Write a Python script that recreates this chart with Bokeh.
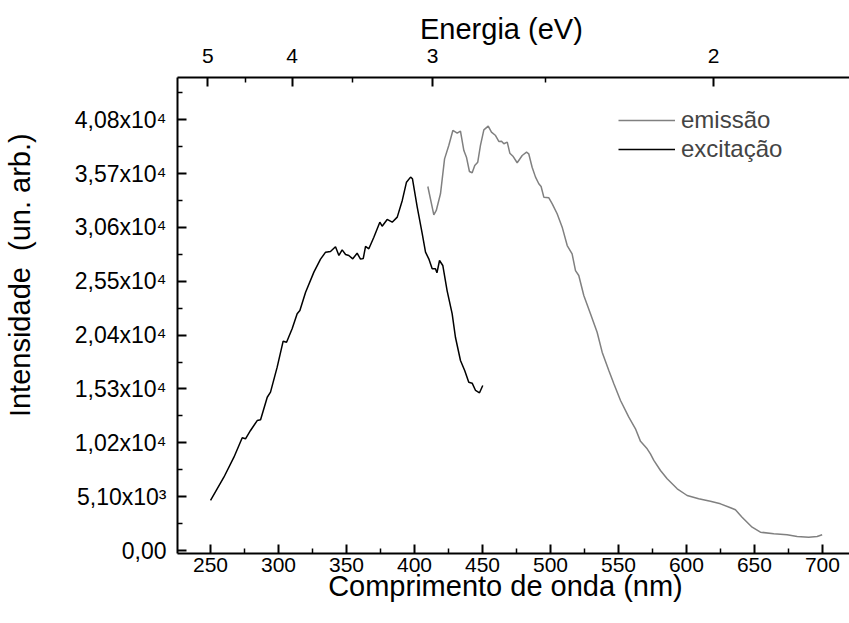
from bokeh.plotting import figure
from bokeh.models import (Range1d, LinearAxis, FixedTicker, CustomJSTickFormatter,
                          Legend, LegendItem)
from bokeh.embed import file_html
from bokeh.resources import INLINE

# ---------------- data ----------------
exc_nm = [250.0, 259.8, 267.2, 273.3, 275.7, 279.4, 284.3, 286.8, 291.7, 294.1,
          299.0, 303.4, 305.9, 310.0, 313.7, 315.7, 319.9, 326.0, 330.9, 334.6,
          338.2, 341.9, 344.4, 346.8, 349.3, 351.7, 354.6, 357.8, 360.3, 362.3,
          364.0, 366.4, 370.1, 374.5, 376.2, 379.9, 383.6, 387.3, 391.0, 394.1,
          397.1, 398.5, 402.0, 405.7, 408.1, 410.5, 413.0, 415.4, 416.5, 418.4,
          420.8, 424.0, 427.7, 430.1, 433.8, 436.9, 439.9, 442.4, 444.9, 447.8,
          450.2]
exc_int = [4740, 6940, 8840, 10680, 10580, 11370, 12310, 12380, 14520, 15000,
           17370, 19830, 19730, 21000, 22420, 22740, 24470, 26370, 27600, 28260,
           28330, 28780, 27950, 28480, 28040, 27950, 27630, 28160, 27600, 27660,
           28800, 28580, 29680, 31100, 30720, 31360, 31100, 31580, 33160, 34890,
           35370, 35210, 32520, 30000, 28260, 27630, 26690, 26690, 26300, 27470,
           27000, 24600, 22420, 20200, 18000, 17050, 15940, 15850, 15160, 14940,
           15630]

emi_nm = [409.8, 414.2, 416.0, 419.1, 422.1, 425.2, 428.2, 431.4, 433.8, 436.3,
          438.2, 440.4, 442.4, 444.3, 446.5, 448.5, 451.0, 454.2, 456.6, 459.6,
          462.0, 464.0, 465.7, 468.2, 470.1, 472.6, 475.5, 479.2, 482.4, 484.0,
          486.5, 489.0, 491.4, 493.1, 495.1, 498.8, 501.3, 504.9, 508.6, 512.3,
          515.9, 518.4, 520.8, 524.5, 529.4, 534.3, 538.0, 542.9, 546.6, 551.5,
          557.6, 562.5, 566.2, 571.1, 573.5, 576.0, 580.9, 585.8, 593.2, 600.5,
          609.0, 617.6, 625.0, 632.4, 636.0, 640.9, 648.3, 654.4, 664.2, 674.0,
          681.4, 689.9, 696.1, 699.8]
emi_int = [34480, 31800, 32210, 33790, 37100, 38370, 39790, 39530, 39720, 37890,
           37260, 35900, 35780, 36470, 36780, 38370, 39850, 40200, 39630, 39310,
           38750, 38770, 38530, 38680, 37640, 37320, 36730, 37420, 37730, 37580,
           36310, 35370, 34740, 34480, 33470, 33410, 32840, 31900, 30630, 28890,
           28100, 26520, 26050, 24160, 22420, 20680, 18790, 17050, 15790, 14210,
           12630, 11530, 10340, 9630, 9160, 8530, 7580, 6790, 5845, 5210,
           4900, 4670, 4420, 4045, 3855, 3155, 2210, 1735, 1580, 1485,
           1325, 1260, 1325, 1485]

x_ticks = [250, 300, 350, 400, 450, 500, 550, 600, 650, 700]
x_minor = [275, 325, 375, 425, 475, 525, 575, 625, 675]
y_ticks = [0, 5100, 10200, 15300, 20400, 25500, 30600, 35700, 40800]
y_labels = ["0,00", "5,10x10³", "1,02x10⁴", "1,53x10⁴", "2,04x10⁴",
            "2,55x10⁴", "3,06x10⁴", "3,57x10⁴", "4,08x10⁴"]
y_minor = [2550, 7650, 12750, 17850, 22950, 28050, 33150, 38250, 43350]
energy_ticks = [5, 4, 3, 2]
energy_minor = [4.5, 3.5, 2.5]
HC = 1240.0

FONT = "Liberation Sans"
NB = "\u00a0"
W, H = 849, 623
X0, X1 = 225.7, 719.9
Y0, Y1 = -284, 44807

p = figure(width=W, height=H, output_backend="svg", toolbar_location=None,
           x_range=Range1d(X0, X1), y_range=Range1d(Y0, Y1),
           min_border_left=177, min_border_right=0, min_border_top=77,
           min_border_bottom=70, background_fill_color="white",
           border_fill_color="white")
p.outline_line_color = None
p.grid.visible = False

r_em = p.line(emi_nm, emi_int, line_color="#808080", line_width=1.5)
r_ex = p.line(exc_nm, exc_int, line_color="#000000", line_width=1.5)


def style(ax, label_size="21px"):
    ax.axis_line_width = 2
    ax.axis_line_color = "black"
    ax.major_tick_line_width = 2
    ax.minor_tick_line_width = 1.5
    ax.major_tick_in = 9
    ax.major_tick_out = 0
    ax.minor_tick_in = 5
    ax.minor_tick_out = 0
    ax.major_label_text_font = FONT
    ax.major_label_text_font_size = label_size
    ax.major_label_text_color = "black"
    ax.axis_label_text_font = FONT
    ax.axis_label_text_font_size = "29px"
    ax.axis_label_text_font_style = "normal"
    ax.axis_label_text_color = "black"


xa = p.xaxis[0]
xa.ticker = FixedTicker(ticks=x_ticks, minor_ticks=x_minor)
# trailing no-break spaces nudge the centred title left, as in the reference
xa.axis_label = "Comprimento de onda (nm)" + NB * 2
style(xa)
xa.major_label_standoff = 4
xa.axis_label_standoff = -5

ya = p.yaxis[0]
ya.ticker = FixedTicker(ticks=y_ticks, minor_ticks=y_minor)
ya.major_label_overrides = {t: l for t, l in zip(y_ticks, y_labels)}
style(ya, "23px")
ya.major_label_standoff = 11
# leading no-break spaces move the centred title upwards, as in the reference
ya.axis_label = NB * 10 + "Intensidade" + NB * 2 + "(un. arb.)"
ya.axis_label_standoff = 36

top = LinearAxis(
    ticker=FixedTicker(ticks=[HC / e for e in energy_ticks],
                       minor_ticks=[HC / e for e in energy_minor]),
    formatter=CustomJSTickFormatter(code="return (1240/tick).toFixed(0)"),
    axis_label="Energia (eV)" + NB * 3)
style(top)
top.major_label_standoff = 15
top.axis_label_standoff = 1
p.add_layout(top, "above")

legend = Legend(items=[LegendItem(label="emissão", renderers=[r_em]),
                       LegendItem(label="excitação", renderers=[r_ex])],
                location=(441, 390), border_line_color=None,
                background_fill_alpha=0, padding=0, margin=0, spacing=1,
                glyph_width=57, glyph_height=20, label_standoff=6,
                label_text_font=FONT, label_text_font_size="24px")
p.add_layout(legend)

open("out.html", "w").write(file_html(p, INLINE))
